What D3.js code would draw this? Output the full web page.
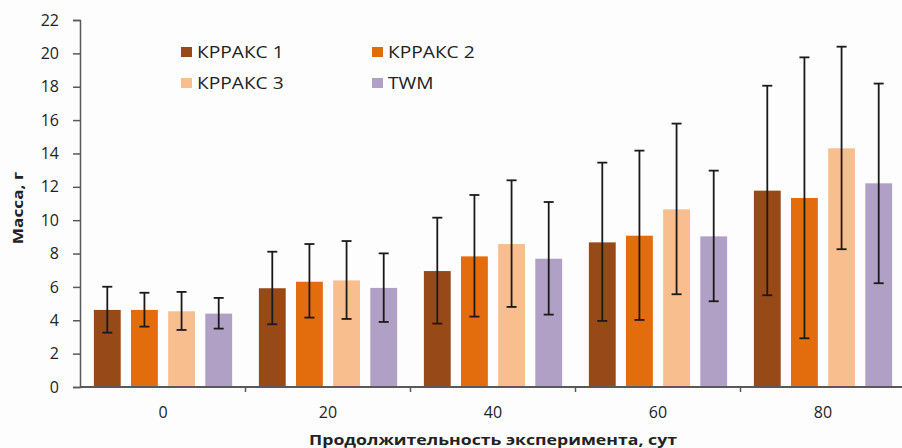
<!DOCTYPE html>
<html>
<head>
<meta charset="utf-8">
<script src="https://cdn.jsdelivr.net/npm/d3@7"></script>
<style>
  body { margin: 0; background: #fdfdfd; }
  svg { font-family: "Open Sans", sans-serif; }
</style>
</head>
<body>
<svg></svg>
<script>
const width = 902;
const height = 448;

// days of experiment
const days = ['0', '20', '40', '60', '80'];
const seriesNames = ['КРРАКС 1', 'КРРАКС 2', 'КРРАКС 3', 'TWM'];
const colors = ['#974a17', '#e36c0d', '#f9be8e', '#b1a0c6'];

// mean mass by series, one value per day
const k1Mean = [4.62, 5.92, 6.95, 8.67, 11.77];
const k2Mean = [4.62, 6.31, 7.83, 9.07, 11.33];
const k3Mean = [4.54, 6.39, 8.57, 10.65, 14.31];
const twmMean = [4.40, 5.94, 7.69, 9.03, 12.21];

// error bar ends
const k1Hi = [6.01, 8.11, 10.15, 13.45, 18.06];
const k1Lo = [3.26, 3.76, 3.80, 3.96, 5.50];
const k2Hi = [5.65, 8.57, 11.51, 14.17, 19.76];
const k2Lo = [3.62, 4.16, 4.22, 4.02, 2.92];
const k3Hi = [5.70, 8.75, 12.39, 15.79, 20.40];
const k3Lo = [3.42, 4.08, 4.80, 5.56, 8.26];
const twmHi = [5.34, 8.01, 11.09, 12.97, 18.19];
const twmLo = [3.50, 3.90, 4.34, 5.14, 6.22];

const yTicks = [0, 2, 4, 6, 8, 10, 12, 14, 16, 18, 20, 22];

const means = [k1Mean, k2Mean, k3Mean, twmMean];
const his = [k1Hi, k2Hi, k3Hi, twmHi];
const los = [k1Lo, k2Lo, k3Lo, twmLo];

let data = [];
days.forEach((d, i) => {
    seriesNames.forEach((s, j) => {
        data.push({ day: d, series: s, value: means[j][i], hi: his[j][i], lo: los[j][i], color: colors[j] });
    });
});

const svg = d3.select('svg')
    .attr('width', width)
    .attr('height', height);

const x0 = d3.scaleBand()
    .domain(days)
    .range([80.5, 905.5]);

const x1 = d3.scaleBand()
    .domain(seriesNames)
    .range([0, x0.bandwidth()])
    .paddingInner(0.277)
    .paddingOuter(0.36);

const y = d3.scaleLinear()
    .domain([0, 22])
    .range([387, 20]);

// bars
svg.selectAll('rect.bar')
    .data(data)
    .enter()
    .append('rect')
    .attr('class', 'bar')
    .attr('x', d => x0(d.day) + x1(d.series))
    .attr('y', d => y(d.value))
    .attr('width', x1.bandwidth())
    .attr('height', d => y(0) - y(d.value))
    .attr('fill', d => d.color);

// error bars
const err = svg.selectAll('g.err')
    .data(data)
    .enter()
    .append('g')
    .attr('class', 'err')
    .attr('stroke', '#1a1a1a')
    .attr('stroke-width', 1.8);

err.append('line')
    .attr('x1', d => x0(d.day) + x1(d.series) + x1.bandwidth() / 2)
    .attr('x2', d => x0(d.day) + x1(d.series) + x1.bandwidth() / 2)
    .attr('y1', d => y(d.hi))
    .attr('y2', d => y(d.lo));

err.selectAll('line.cap')
    .data(d => [d.hi, d.lo].map(v => ({ v: v, cx: x0(d.day) + x1(d.series) + x1.bandwidth() / 2 })))
    .enter()
    .append('line')
    .attr('class', 'cap')
    .attr('x1', d => d.cx - 5)
    .attr('x2', d => d.cx + 5)
    .attr('y1', d => y(d.v))
    .attr('y2', d => y(d.v));

// y axis
const yAxis = d3.axisLeft(y)
    .tickValues(yTicks)
    .tickSize(7)
    .tickPadding(14);

const gy = svg.append('g')
    .attr('transform', 'translate(80, 0)')
    .call(yAxis);
gy.select('.domain').attr('stroke', '#595959').attr('stroke-width', 1.5);
gy.selectAll('.tick line').attr('stroke', '#595959').attr('stroke-width', 1.5);
gy.selectAll('.tick text')
    .style('font-size', '16px')
    .style('fill', '#222')
    .attr('font-family', '"Open Sans", sans-serif');

// x axis
svg.append('line')
    .attr('x1', 80)
    .attr('x2', width)
    .attr('y1', y(0))
    .attr('y2', y(0))
    .attr('stroke', '#595959')
    .attr('stroke-width', 2);

svg.selectAll('line.xtick')
    .data(days.slice(1))
    .enter()
    .append('line')
    .attr('class', 'xtick')
    .attr('x1', d => x0(d))
    .attr('x2', d => x0(d))
    .attr('y1', y(0))
    .attr('y2', y(0) + 5)
    .attr('stroke', '#595959')
    .attr('stroke-width', 1.5);

svg.selectAll('text.xlabel')
    .data(days)
    .enter()
    .append('text')
    .attr('class', 'xlabel')
    .attr('x', d => x0(d) + x0.bandwidth() / 2)
    .attr('y', 418)
    .attr('text-anchor', 'middle')
    .style('font-size', '16px')
    .style('fill', '#222')
    .text(d => d);

// axis titles (the source lettering is wide, so stretch it a bit)
svg.append('text')
    .attr('transform', 'translate(493, 445) scale(1.22, 1)')
    .attr('text-anchor', 'middle')
    .style('font-size', '14.5px')
    .style('font-weight', 'bold')
    .style('fill', '#222')
    .text('Продолжительность эксперимента, сут');

svg.append('text')
    .attr('transform', 'translate(23, 208) rotate(-90) scale(1.15, 1)')
    .attr('text-anchor', 'middle')
    .style('font-size', '15px')
    .style('font-weight', 'bold')
    .style('fill', '#222')
    .text('Масса, г');

// legend
const legend = svg.selectAll('g.legend')
    .data(seriesNames)
    .enter()
    .append('g')
    .attr('class', 'legend')
    .attr('transform', (d, i) => 'translate(' + (i % 2 === 0 ? 181 : 372) + ', ' + (i < 2 ? 47 : 78) + ')');

legend.append('rect')
    .attr('width', 11)
    .attr('height', 10)
    .attr('fill', (d, i) => colors[i]);

legend.append('text')
    .attr('transform', 'translate(16, 10.5) scale(1.2, 1)')
    .style('font-size', '16px')
    .style('fill', '#222')
    .text(d => d);
</script>
</body>
</html>
